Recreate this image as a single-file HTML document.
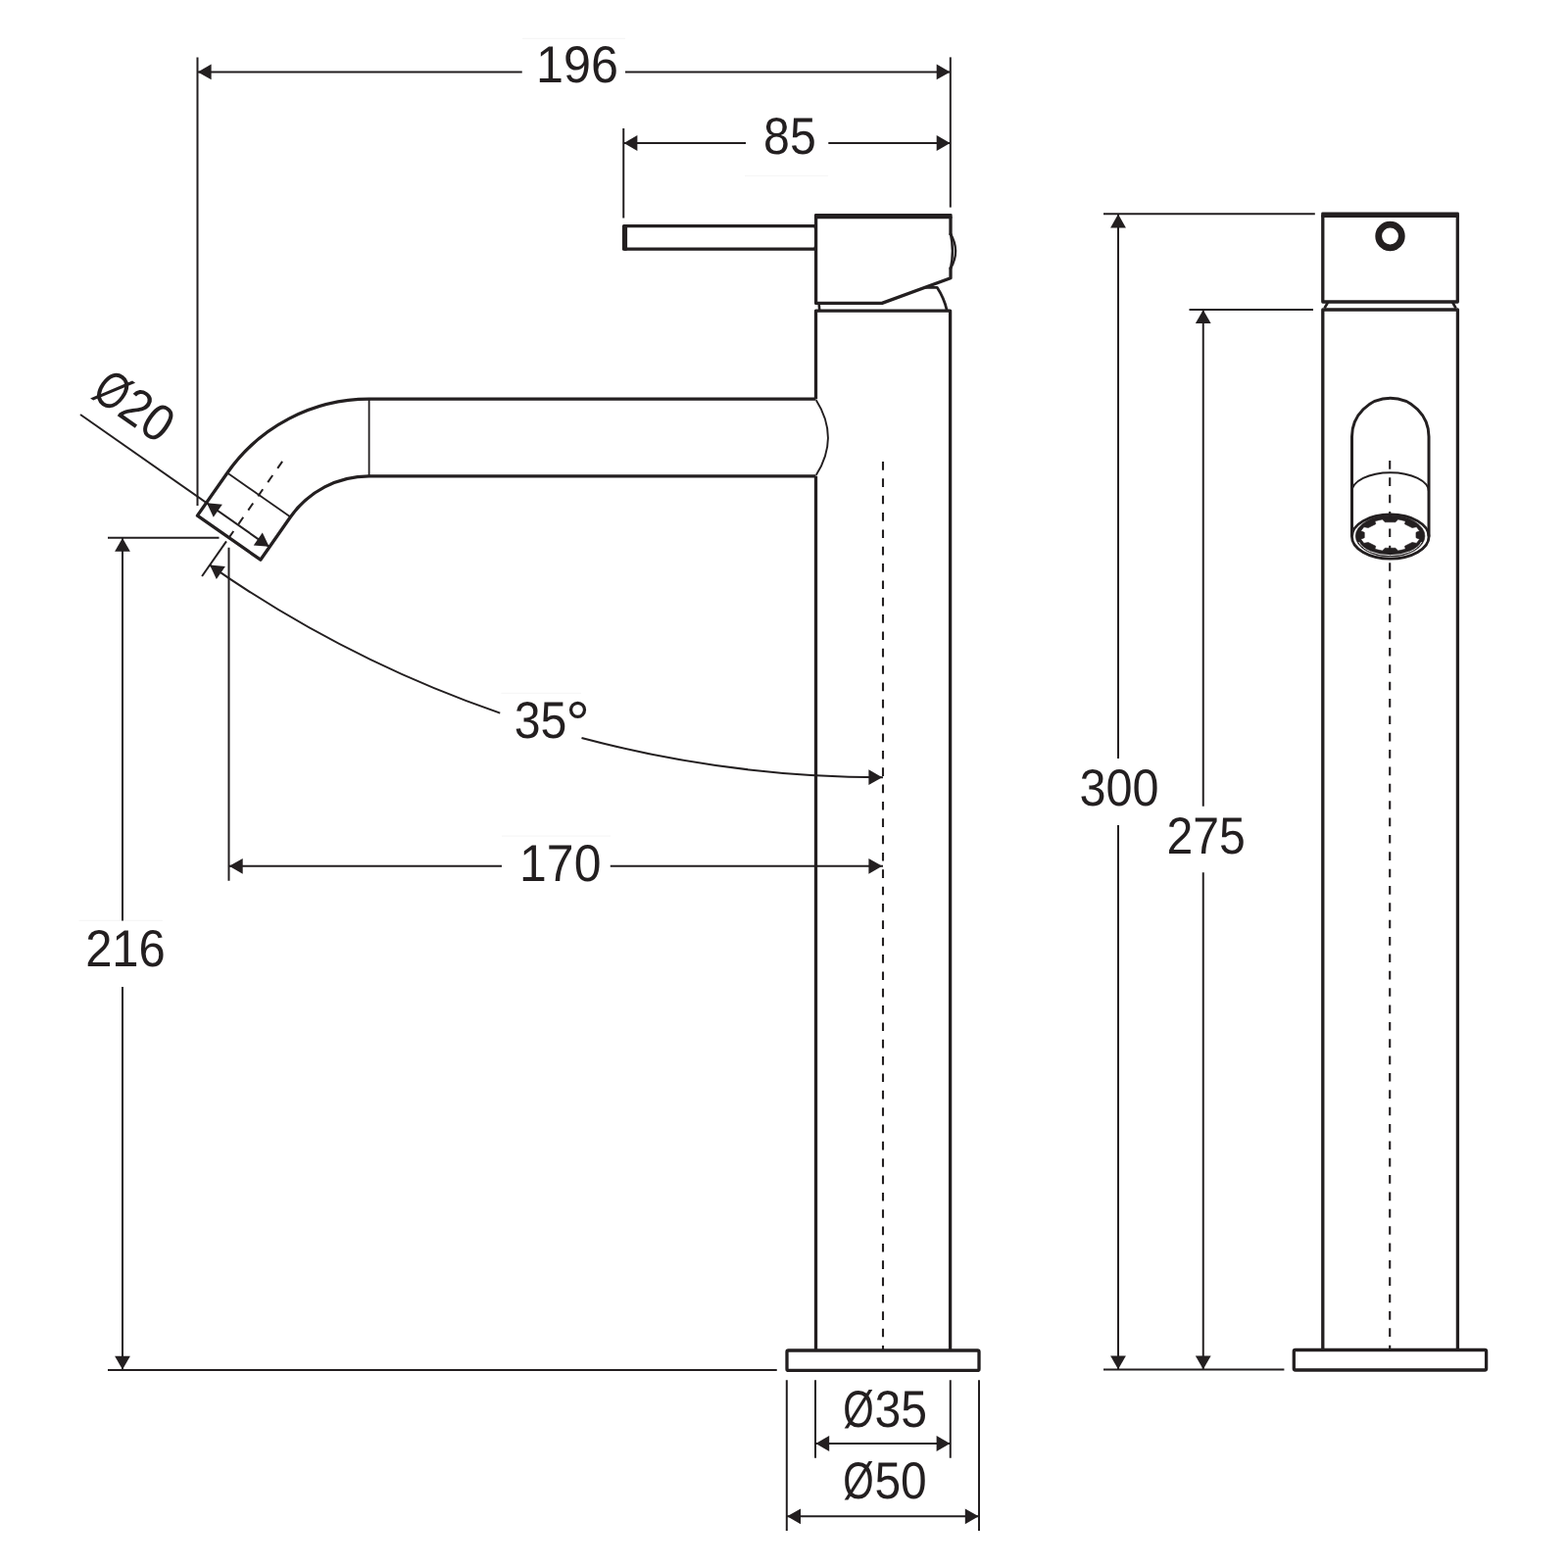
<!DOCTYPE html>
<html lang="en">
<head>
<meta charset="utf-8">
<title>Basin mixer – technical drawing</title>
<style>
html,body{margin:0;padding:0;background:#fff;}
body{width:1600px;height:1600px;overflow:hidden;}
svg{display:block;}
svg text{font-family:"Liberation Sans",sans-serif;font-size:53px;fill:#231f20;stroke:none;text-rendering:geometricPrecision;-webkit-font-smoothing:antialiased;}
</style>
</head>
<body>
<svg width="1600" height="1600" viewBox="0 0 1600 1600" stroke="#231f20" fill="none">
<rect x="0" y="0" width="1600" height="1600" fill="#fff" stroke="none"/>
<line x1="533" y1="39.4" x2="638" y2="39.4" stroke="#f3f3f3" stroke-width="0.9"/>
<line x1="760" y1="179.4" x2="845" y2="179.4" stroke="#f3f3f3" stroke-width="0.9"/>
<line x1="80.6" y1="939.4" x2="166" y2="939.4" stroke="#f3f3f3" stroke-width="0.9"/>
<line x1="511.5" y1="707.3" x2="593" y2="707.3" stroke="#f3f3f3" stroke-width="0.9"/>
<line x1="512" y1="853.1" x2="623" y2="853.1" stroke="#f3f3f3" stroke-width="0.9"/>
<line x1="201.50" y1="58.40" x2="201.50" y2="516.00" stroke-width="2.0" />
<line x1="969.80" y1="58.40" x2="969.80" y2="211.60" stroke-width="2.0" />
<line x1="636.25" y1="131.00" x2="636.25" y2="222.50" stroke-width="2.0" />
<line x1="110.00" y1="548.75" x2="223.50" y2="548.75" stroke-width="2.0" />
<line x1="110.00" y1="1397.90" x2="792.75" y2="1397.90" stroke-width="2.0" />
<line x1="233.50" y1="558.75" x2="233.50" y2="898.70" stroke-width="2.0" />
<line x1="201.50" y1="73.40" x2="532.75" y2="73.40" stroke-width="2.0" />
<line x1="638.00" y1="73.40" x2="969.60" y2="73.40" stroke-width="2.0" />
<polygon points="201.80,73.40 215.60,65.50 215.60,81.30" fill="#231f20" stroke="none"/>
<polygon points="969.50,73.40 955.70,81.30 955.70,65.50" fill="#231f20" stroke="none"/>
<line x1="636.25" y1="146.00" x2="761.00" y2="146.00" stroke-width="2.0" />
<line x1="845.30" y1="146.00" x2="969.60" y2="146.00" stroke-width="2.0" />
<polygon points="636.60,146.00 650.40,138.10 650.40,153.90" fill="#231f20" stroke="none"/>
<polygon points="969.50,146.00 955.70,153.90 955.70,138.10" fill="#231f20" stroke="none"/>
<line x1="233.50" y1="883.80" x2="512.00" y2="883.80" stroke-width="2.0" />
<line x1="622.75" y1="883.80" x2="901.00" y2="883.80" stroke-width="2.0" />
<polygon points="233.90,883.80 247.70,875.90 247.70,891.70" fill="#231f20" stroke="none"/>
<polygon points="900.20,883.80 886.40,891.70 886.40,875.90" fill="#231f20" stroke="none"/>
<line x1="125.00" y1="548.75" x2="125.00" y2="939.40" stroke-width="2.0" />
<line x1="125.00" y1="1006.90" x2="125.00" y2="1397.90" stroke-width="2.0" />
<polygon points="125.00,549.00 132.90,562.80 117.10,562.80" fill="#231f20" stroke="none"/>
<polygon points="125.00,1397.60 117.10,1383.80 132.90,1383.80" fill="#231f20" stroke="none"/>
<path d="M832,230.7 H637.6 V254.1 H832" stroke-width="3.3" fill="none" stroke-linejoin="round"/>
<rect x="634.9" y="229.05" width="5.2" height="26.7" rx="1.6" fill="#231f20" stroke="none"/>
<path d="M831.2,230 Q834.6,242.4 831.2,254.8" stroke-width="2" fill="none"/>
<path d="M832.6,221.2 V309.4 H900 L970,283.8 V272.6 M970,240 V221.2" stroke-width="3.3" fill="none" stroke-linejoin="round"/>
<rect x="830.95" y="218.0" width="140.7" height="5.2" rx="1.4" fill="#231f20" stroke="none"/>
<path d="M970,238.6 Q980.2,256.3 970,274" stroke-width="2.3" fill="none" stroke-linecap="round"/>
<path d="M970,238.6 Q973.8,256.3 970,274" stroke-width="2.5" fill="none" stroke-linecap="round"/>
<path d="M835.6,309.4 L836.2,316" stroke-width="2.6" fill="none"/>
<path d="M944,293.3 H956.2 Q963.6,304.6 966.3,317" stroke-width="2.8" fill="none" stroke-linejoin="round"/>
<path d="M832.5,407.2 V317.2 H969.6 V1378" stroke-width="3.3" fill="none" stroke-linejoin="round"/>
<line x1="832.50" y1="485.80" x2="832.50" y2="1378.00" stroke-width="3.3" />
<rect x="803" y="1378" width="196" height="20.4" rx="1.5" stroke-width="3.3" fill="none"/>
<path d="M832.5,407.2 H376.6 A176.52,176.52 0 0 0 232.00,482.47 L201.43,526.13 L265.81,571.22 L296.39,527.56 A97.92,97.92 0 0 1 376.6,485.8 H832.5" stroke-width="3.3" fill="none" stroke-linejoin="round"/>
<line x1="376.60" y1="407.20" x2="376.60" y2="485.80" stroke-width="1.8" />
<line x1="232.00" y1="482.47" x2="296.39" y2="527.56" stroke-width="1.8" />
<path d="M832.8,408.2 Q857,446.5 832.8,484.8" stroke-width="1.9" fill="none"/>
<line x1="233.33" y1="549.09" x2="288.11" y2="470.86" stroke-width="2" stroke-dasharray="8.6 8.8"/>
<line x1="230.98" y1="552.44" x2="206.09" y2="588.00" stroke-width="2.0" />
<line x1="82.00" y1="422.98" x2="274.99" y2="558.11" stroke-width="2.0" />
<polygon points="211.02,513.32 226.85,514.76 217.79,527.70" fill="#231f20" stroke="none"/>
<polygon points="274.58,557.82 258.75,556.38 267.81,543.44" fill="#231f20" stroke="none"/>
<line x1="901.00" y1="471.00" x2="901.00" y2="1378.00" stroke-width="2.1" stroke-dasharray="8.65 8.696"/>
<path d="M214.06,576.61 A1197.64,1197.64 0 0 0 510.25,727.66" stroke-width="2.0" fill="none"/>
<path d="M593.50,753.05 A1197.64,1197.64 0 0 0 901.00,793.20" stroke-width="2.0" fill="none"/>
<polygon points="214.06,576.61 229.90,578.05 220.84,591.00" fill="#231f20" stroke="none"/>
<polygon points="900.20,793.20 886.40,801.10 886.40,785.30" fill="#231f20" stroke="none"/>
<line x1="832.00" y1="1408.25" x2="832.00" y2="1487.75" stroke-width="2.0" />
<line x1="969.75" y1="1408.25" x2="969.75" y2="1487.75" stroke-width="2.0" />
<line x1="802.80" y1="1408.25" x2="802.80" y2="1562.00" stroke-width="2.0" />
<line x1="999.00" y1="1408.25" x2="999.00" y2="1562.00" stroke-width="2.0" />
<line x1="832.00" y1="1473.00" x2="969.75" y2="1473.00" stroke-width="2.0" />
<polygon points="832.40,1473.00 846.20,1465.10 846.20,1480.90" fill="#231f20" stroke="none"/>
<polygon points="969.40,1473.00 955.60,1480.90 955.60,1465.10" fill="#231f20" stroke="none"/>
<line x1="802.80" y1="1547.30" x2="999.00" y2="1547.30" stroke-width="2.0" />
<polygon points="803.20,1547.30 817.00,1539.40 817.00,1555.20" fill="#231f20" stroke="none"/>
<polygon points="998.60,1547.30 984.80,1555.20 984.80,1539.40" fill="#231f20" stroke="none"/>
<line x1="1126.00" y1="218.30" x2="1341.80" y2="218.30" stroke-width="2.0" />
<line x1="1213.50" y1="316.00" x2="1340.00" y2="316.00" stroke-width="2.0" />
<line x1="1126.00" y1="1397.60" x2="1310.40" y2="1397.60" stroke-width="2.0" />
<line x1="1141.00" y1="218.30" x2="1141.00" y2="774.00" stroke-width="2.0" />
<line x1="1141.00" y1="842.00" x2="1141.00" y2="1397.60" stroke-width="2.0" />
<polygon points="1141.00,218.60 1148.90,232.40 1133.10,232.40" fill="#231f20" stroke="none"/>
<polygon points="1141.00,1397.30 1133.10,1383.50 1148.90,1383.50" fill="#231f20" stroke="none"/>
<line x1="1227.75" y1="316.00" x2="1227.75" y2="822.80" stroke-width="2.0" />
<line x1="1227.75" y1="890.30" x2="1227.75" y2="1397.60" stroke-width="2.0" />
<polygon points="1227.75,316.30 1235.65,330.10 1219.85,330.10" fill="#231f20" stroke="none"/>
<polygon points="1227.75,1397.30 1219.85,1383.50 1235.65,1383.50" fill="#231f20" stroke="none"/>
<path d="M1349.8,219.6 V308 H1487.3 V219.6" stroke-width="3.3" fill="none" stroke-linejoin="round"/>
<rect x="1348.15" y="216.5" width="140.8" height="5.4" rx="1.4" fill="#231f20" stroke="none"/>
<circle cx="1418.5" cy="241" r="11.8" stroke-width="6.8" fill="none"/>
<path d="M1355,308.5 L1351.5,314.5 M1482.2,308.5 L1485.6,314.5" stroke-width="2.6" fill="none"/>
<path d="M1349.8,1377.5 V316 H1487.4 V1377.5" stroke-width="3.3" fill="none" stroke-linejoin="round"/>
<rect x="1320.3" y="1377.5" width="196.3" height="20.5" rx="1.5" stroke-width="3.3" fill="none"/>
<path d="M1379.5,547.6 V445.5 A39.25,39.25 0 0 1 1458,445.5 V547.6" stroke-width="3" fill="none"/>
<ellipse cx="1418.75" cy="547.6" rx="39.3" ry="22.6" stroke-width="2.8" fill="none"/>
<path d="M1379.5,501.8 A39.25,19.6 0 0 1 1458,501.8" stroke-width="1.9" fill="none"/>
<path d="M1383.30,547.0 A35.3,21.0 0 1 0 1453.90,547.0 A35.3,21.0 0 1 0 1383.30,547.0 Z M1448.56,541.73 L1444.96,543.32 L1444.96,548.68 L1448.56,550.27 L1445.42,554.33 L1441.02,553.46 L1433.46,557.25 L1434.15,560.36 L1426.57,562.04 L1423.94,559.23 L1413.26,559.23 L1410.63,562.04 L1403.05,560.36 L1403.74,557.25 L1396.18,553.46 L1391.78,554.33 L1388.64,550.27 L1392.24,548.68 L1392.24,543.32 L1388.64,541.73 L1391.78,537.67 L1396.18,538.54 L1403.74,534.75 L1403.05,531.64 L1410.63,529.96 L1413.26,532.77 L1423.94,532.77 L1426.57,529.96 L1434.15,531.64 L1433.46,534.75 L1441.02,538.54 L1445.42,537.67 Z" fill="#231f20" fill-rule="evenodd" stroke="#231f20" stroke-width="0.6" stroke-linejoin="round"/>
<path d="M1386.6,553 A33.2,18.6 0 0 0 1450.6,553" stroke="#fff" stroke-width="0.9" fill="none"/>
<line x1="1418.20" y1="470.00" x2="1418.20" y2="1377.00" stroke-width="2.1" stroke-dasharray="8.65 8.71"/>
<g opacity="0.999">
<text><tspan x="546.97" y="83.60" textLength="83.94" lengthAdjust="spacingAndGlyphs">196</tspan></text>
<text><tspan x="779.07" y="157.00" textLength="53.66" lengthAdjust="spacingAndGlyphs">85</tspan></text>
<text><tspan x="530.11" y="898.70" textLength="83.29" lengthAdjust="spacingAndGlyphs">170</tspan></text>
<text><tspan x="87.15" y="985.50" textLength="81.70" lengthAdjust="spacingAndGlyphs">216</tspan></text>
<text transform="translate(93.64,406.35) rotate(35)"><tspan x="-2.51" y="-0.40" textLength="31.45" lengthAdjust="spacingAndGlyphs">Ø</tspan><tspan x="29.08" y="-0.40" textLength="53.81" lengthAdjust="spacingAndGlyphs">20</tspan></text>
<text><tspan x="524.67" y="752.80" textLength="53.66" lengthAdjust="spacingAndGlyphs">35</tspan><tspan x="577.31" y="759.20" font-size="62" textLength="24.57" lengthAdjust="spacingAndGlyphs">°</tspan></text>
<text><tspan x="860.34" y="1455.80" textLength="31.45" lengthAdjust="spacingAndGlyphs">Ø</tspan><tspan x="892.42" y="1455.80" textLength="53.55" lengthAdjust="spacingAndGlyphs">35</tspan></text>
<text><tspan x="860.34" y="1528.80" textLength="31.45" lengthAdjust="spacingAndGlyphs">Ø</tspan><tspan x="892.43" y="1528.80" textLength="53.29" lengthAdjust="spacingAndGlyphs">50</tspan></text>
<text><tspan x="1101.46" y="821.90" textLength="81.09" lengthAdjust="spacingAndGlyphs">300</tspan></text>
<text><tspan x="1190.49" y="870.80" textLength="80.34" lengthAdjust="spacingAndGlyphs">275</tspan></text>
</g>
</svg>
</body>
</html>
